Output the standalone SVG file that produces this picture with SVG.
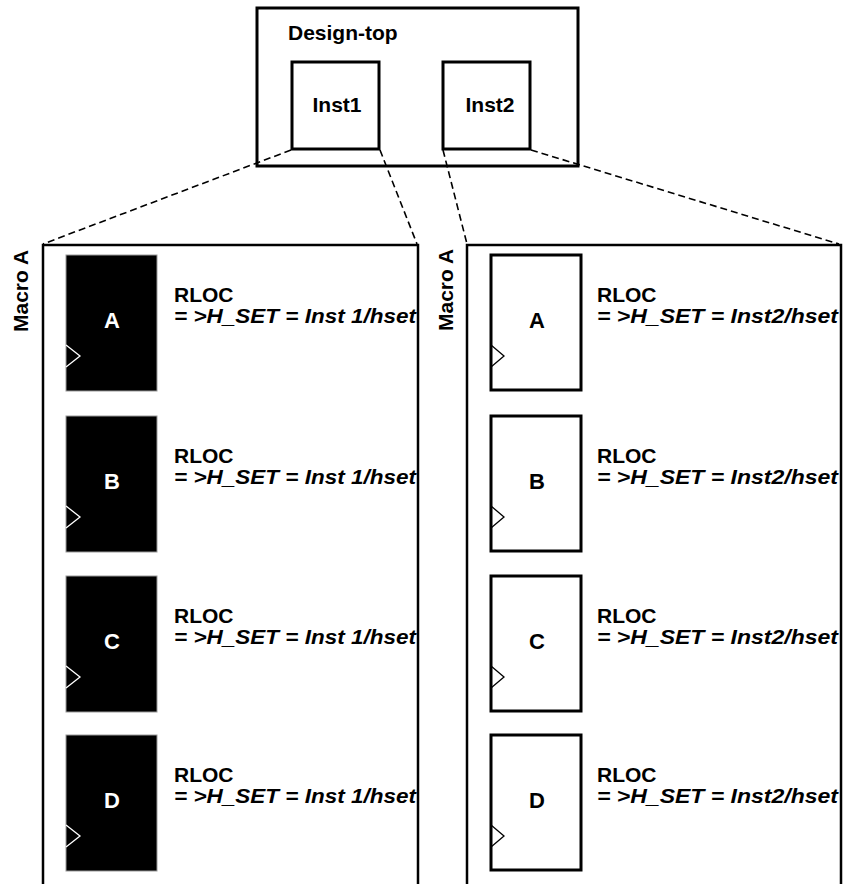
<svg xmlns="http://www.w3.org/2000/svg" width="844" height="884" viewBox="0 0 844 884">
<style>
.bold{font-family:"Liberation Sans",Arial,sans-serif;font-weight:bold;font-size:21px;fill:#000}
.rloc{font-family:"Liberation Sans",Arial,sans-serif;font-weight:bold;font-size:21px;fill:#000}
.set{font-family:"Liberation Sans",Arial,sans-serif;font-weight:bold;font-style:italic;font-size:21px;fill:#000}
.lblw{font-family:"Liberation Sans",Arial,sans-serif;font-weight:bold;font-size:22px;fill:#fff;text-anchor:middle}
.lblb{font-family:"Liberation Sans",Arial,sans-serif;font-weight:bold;font-size:22px;fill:#000;text-anchor:middle}
.box{fill:#fff;stroke:#000;stroke-width:3}
.frame{fill:none;stroke:#000;stroke-width:2.5}
.blk{fill:#000;stroke:#999;stroke-width:1}
.wht{fill:#fff;stroke:#000;stroke-width:3}
.clkw{fill:none;stroke:#fff;stroke-width:1.3}
.clkb{fill:none;stroke:#000;stroke-width:1.3}
.dash{fill:none;stroke:#000;stroke-width:1.6;stroke-dasharray:7 4}
</style>
<rect width="844" height="884" fill="#fff"/>
<g id="design-top">
  <rect class="box" x="257" y="8" width="321" height="158"/>
  <text class="bold" x="288" y="40">Design-top</text>
</g>
<g id="inst1">
  <rect class="box" x="292" y="62" width="87" height="87"/>
  <text class="bold" x="337" y="112" text-anchor="middle">Inst1</text>
</g>
<g id="inst2">
  <rect class="box" x="443" y="62" width="87" height="87"/>
  <text class="bold" x="490" y="112" text-anchor="middle">Inst2</text>
</g>
<g id="connectors">
  <line class="dash" x1="291" y1="150" x2="43" y2="244"/>
  <line class="dash" x1="380" y1="150" x2="417" y2="244"/>
  <line class="dash" x1="443" y1="150" x2="467" y2="244"/>
  <line class="dash" x1="531" y1="150" x2="839" y2="244"/>
</g>
<g id="macro-left">
  <path class="frame" d="M43,884 V245 H418 V884"/>
  <text class="bold" transform="translate(28,291) rotate(-90)" text-anchor="middle">Macro A</text>
</g>
<g id="macro-right">
  <path class="frame" d="M467,884 V245 H841 V884"/>
  <text class="bold" transform="translate(453,290) rotate(-90)" text-anchor="middle">Macro A</text>
</g>
<g id="left-A">
  <rect class="blk" x="66" y="255" width="91" height="136"/>
  <polyline class="clkw" points="66,345 80,356 66,367"/>
  <text class="lblw" x="112" y="328">A</text>
  <text class="rloc" x="174" y="302">RLOC</text>
  <text class="set" x="174" y="323" textLength="242" lengthAdjust="spacingAndGlyphs">= &gt;H_SET = Inst 1/hset</text>
</g>
<g id="left-B">
  <rect class="blk" x="66" y="416" width="91" height="136"/>
  <polyline class="clkw" points="66,506 80,517 66,528"/>
  <text class="lblw" x="112" y="489">B</text>
  <text class="rloc" x="174" y="463">RLOC</text>
  <text class="set" x="174" y="484" textLength="242" lengthAdjust="spacingAndGlyphs">= &gt;H_SET = Inst 1/hset</text>
</g>
<g id="left-C">
  <rect class="blk" x="66" y="576" width="91" height="136"/>
  <polyline class="clkw" points="66,666 80,677 66,688"/>
  <text class="lblw" x="112" y="649">C</text>
  <text class="rloc" x="174" y="623">RLOC</text>
  <text class="set" x="174" y="644" textLength="242" lengthAdjust="spacingAndGlyphs">= &gt;H_SET = Inst 1/hset</text>
</g>
<g id="left-D">
  <rect class="blk" x="66" y="735" width="91" height="136"/>
  <polyline class="clkw" points="66,825 80,836 66,847"/>
  <text class="lblw" x="112" y="808">D</text>
  <text class="rloc" x="174" y="782">RLOC</text>
  <text class="set" x="174" y="803" textLength="242" lengthAdjust="spacingAndGlyphs">= &gt;H_SET = Inst 1/hset</text>
</g>
<g id="right-A">
  <rect class="wht" x="491" y="255" width="90" height="135"/>
  <polyline class="clkb" points="491,345 504,356 491,367"/>
  <text class="lblb" x="537" y="328">A</text>
  <text class="rloc" x="597" y="302">RLOC</text>
  <text class="set" x="597" y="323" textLength="241" lengthAdjust="spacingAndGlyphs">= &gt;H_SET = Inst2/hset</text>
</g>
<g id="right-B">
  <rect class="wht" x="491" y="416" width="90" height="135"/>
  <polyline class="clkb" points="491,506 504,517 491,528"/>
  <text class="lblb" x="537" y="489">B</text>
  <text class="rloc" x="597" y="463">RLOC</text>
  <text class="set" x="597" y="484" textLength="241" lengthAdjust="spacingAndGlyphs">= &gt;H_SET = Inst2/hset</text>
</g>
<g id="right-C">
  <rect class="wht" x="491" y="576" width="90" height="135"/>
  <polyline class="clkb" points="491,666 504,677 491,688"/>
  <text class="lblb" x="537" y="649">C</text>
  <text class="rloc" x="597" y="623">RLOC</text>
  <text class="set" x="597" y="644" textLength="241" lengthAdjust="spacingAndGlyphs">= &gt;H_SET = Inst2/hset</text>
</g>
<g id="right-D">
  <rect class="wht" x="491" y="735" width="90" height="135"/>
  <polyline class="clkb" points="491,825 504,836 491,847"/>
  <text class="lblb" x="537" y="808">D</text>
  <text class="rloc" x="597" y="782">RLOC</text>
  <text class="set" x="597" y="803" textLength="241" lengthAdjust="spacingAndGlyphs">= &gt;H_SET = Inst2/hset</text>
</g>
</svg>
